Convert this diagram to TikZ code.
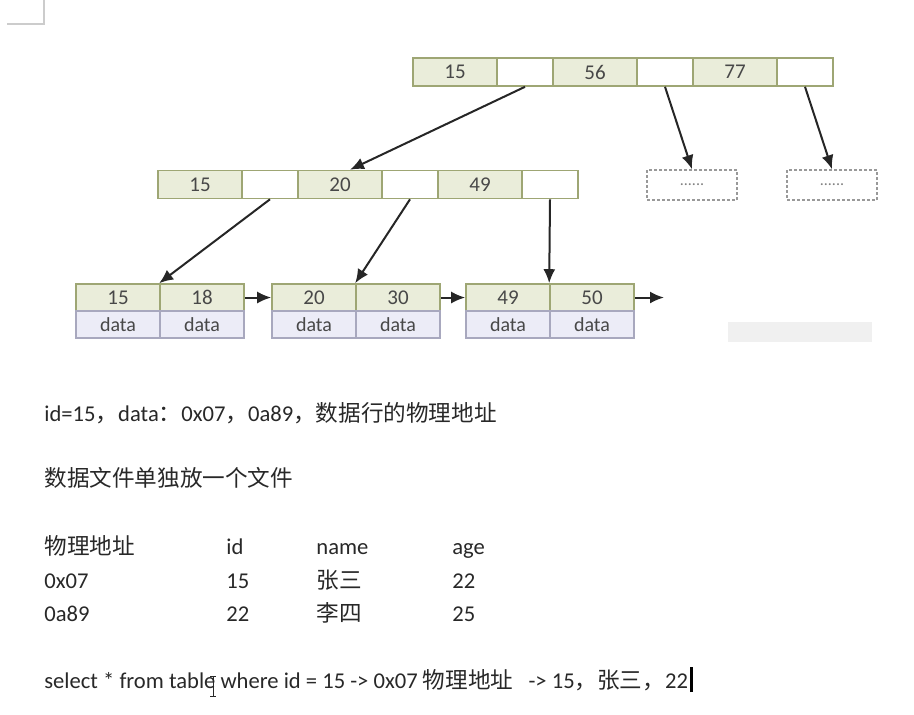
\documentclass[tikz,border=0pt]{standalone}
\usepackage{fontspec}
\setmainfont{Carlito}
\newfontfamily\cjk{Noto Sans CJK SC}
\usetikzlibrary{arrows.meta}
\definecolor{keyfill}{RGB}{234,237,218}
\definecolor{keyline}{RGB}{158,166,116}
\definecolor{datafill}{RGB}{236,236,247}
\definecolor{dataline}{RGB}{168,168,190}
\definecolor{txt}{RGB}{40,40,40}

\tikzset{
  keycell/.style={draw=keyline, line width=0.8pt, fill=keyfill, minimum width=42pt, minimum height=14pt, inner sep=0pt, text=txt!85, font=\fontsize{10.5}{11}\selectfont},
  ptrcell/.style={keycell, fill=white, minimum width=28pt},
  leafkey/.style={keycell, minimum height=13.5pt},
  datacell/.style={draw=dataline, line width=0.8pt, fill=datafill, minimum width=42pt, minimum height=13.5pt, inner sep=0pt, text=txt!85, font=\fontsize{10}{11}\selectfont},
  dotbox/.style={draw=gray!80, dash pattern=on 1.5pt off 1pt, line width=0.8pt, minimum width=45pt, minimum height=15pt, inner sep=0pt, text=gray, font=\fontsize{8}{9}\selectfont},
  link/.style={-{Latex[length=7pt,width=6pt]}, line width=1pt, black!85},
  textline/.style={anchor=base west, inner sep=0pt, text=txt, font=\fontsize{11.3}{13}\selectfont}
}

\begin{document}
\begin{tikzpicture}[x=0.5pt, y=-0.5pt]
\useasboundingbox (0,0) rectangle (914,714);

% corner mark and smudge
\draw[gray!40, line width=0.8pt] (7,24) -- (44,24) -- (44,0);
\fill[gray!12] (728,322) rectangle (872,342);

% root
\node[keycell] (t1) at (455,72) {15};
\node[ptrcell] (t2) at (525,72) {};
\node[keycell] (t3) at (595,72) {56};
\node[ptrcell] (t4) at (665,72) {};
\node[keycell] (t5) at (735,72) {77};
\node[ptrcell] (t6) at (805,72) {};

% inner node
\node[keycell] (m1) at (200,184.5) {15};
\node[ptrcell] (m2) at (270,184.5) {};
\node[keycell] (m3) at (340,184.5) {20};
\node[ptrcell] (m4) at (410,184.5) {};
\node[keycell] (m5) at (480,184.5) {49};
\node[ptrcell] (m6) at (550,184.5) {};

\node[dotbox] (d1) at (692,185) {......};
\node[dotbox] (d2) at (832,185) {......};

% leaves
\node[leafkey] (a1) at (118,297.5) {15};
\node[leafkey] (a2) at (202,297.5) {18};
\node[datacell] (a3) at (118,324.5) {data};
\node[datacell] (a4) at (202,324.5) {data};

\node[leafkey] (b1) at (314,297.5) {20};
\node[leafkey] (b2) at (398,297.5) {30};
\node[datacell] (b3) at (314,324.5) {data};
\node[datacell] (b4) at (398,324.5) {data};

\node[leafkey] (c1) at (508,297.5) {49};
\node[leafkey] (c2) at (592,297.5) {50};
\node[datacell] (c3) at (508,324.5) {data};
\node[datacell] (c4) at (592,324.5) {data};
\coordinate (cnext) at (664,297.5);

% pointers
\draw[link] (t2.south) -- ([xshift=5pt]m3.north);
\draw[link] (t4.south) -- (d1.north);
\draw[link] (t6.south) -- (d2.north);
\draw[link] (m2.south) -- (a2.north west);
\draw[link] (m4.south) -- (b2.north west);
\draw[link] (m6.south) -- (c2.north west);
\draw[link] (a2.east) -- (b1.west);
\draw[link] (b2.east) -- (c1.west);
\draw[link] (c2.east) -- (cnext);

% notes
\node[textline] (n1) at (44,421) {id=15{\cjk ，}data{\cjk ：}0x07{\cjk ，}0a89{\cjk ，数据行的物理地址}};
\node[textline] (n2) at (44,486) {\cjk 数据文件单独放一个文件};

\node[textline] (h1) at (44,554) {\cjk 物理地址};
\node[textline] (h2) at (226,554) {id};
\node[textline] (h3) at (316,554) {name};
\node[textline] (h4) at (452,554) {age};
\node[textline] (r11) at (44,588) {0x07};
\node[textline] (r12) at (226,588) {15};
\node[textline] (r13) at (316,588) {\cjk 张三};
\node[textline] (r14) at (452,588) {22};
\node[textline] (r21) at (44,621) {0a89};
\node[textline] (r22) at (226,621) {22};
\node[textline] (r23) at (316,621) {\cjk 李四};
\node[textline] (r24) at (452,621) {25};

\node[textline] (q) at (44,688) {select * from table where id = 15 -> 0x07 {\cjk 物理地址}\ \ \ -> 15{\cjk ，张三，}22};
\draw[black, line width=1.2pt] ([xshift=1.5pt]q.base east) ++(0,4) -- ++(0,-25);
% mouse pointer
\draw[txt, line width=0.5pt] (213,676) -- (213,696) (210,696) -- (216,696) (210,676) -- (216,676);
\end{tikzpicture}
\end{document}
